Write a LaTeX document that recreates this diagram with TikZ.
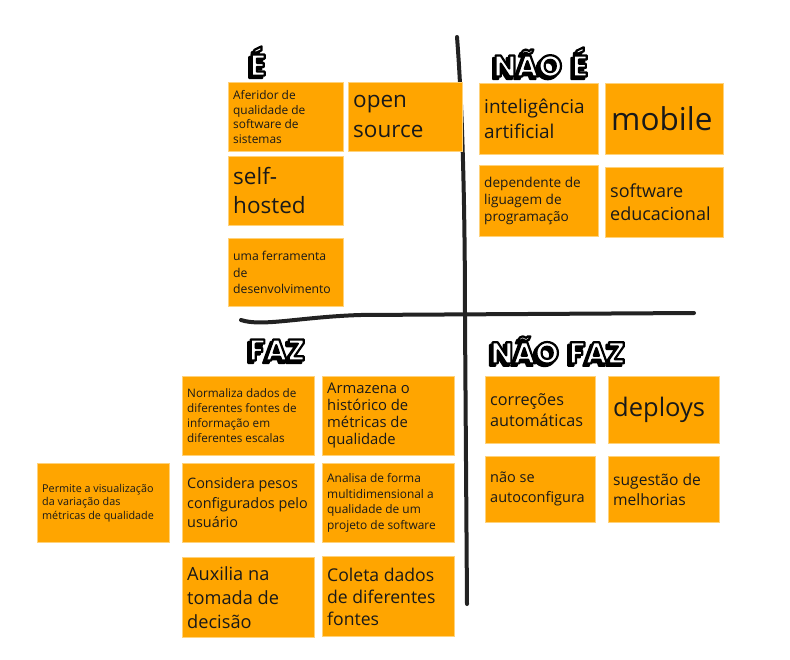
\documentclass[tikz,border=0pt]{standalone}
\usepackage{fontspec}
\setmainfont{Open Sans}
\newfontfamily\hfont{Poppins}[BoldFont={* Bold}]
\definecolor{noteorange}{HTML}{FFA500}
\definecolor{noteedge}{HTML}{FFD27A}
\definecolor{inkline}{HTML}{222222}
\newcommand{\fsz}[2]{\fontsize{#1}{#2}\selectfont}
\newcommand{\outlined}[2]{\color{#1}\special{pdf:literal direct 0 G 2.2 w 1 j 2 Tr}#2\special{pdf:literal direct 0 Tr}}
\newcommand{\mknote}[8]{%
  \node[note, minimum width={#4-#2}, minimum height={#5-#3}, anchor=north west] (#1) at (#2,#3) {};
  \node[notetext, font=\fsz{#6}{#7}] (#1t) at ([xshift=5pt]#1.west) {#8};}
\newcommand{\mkhead}[4]{%
  \node[headtext] (#1s) at ([shift={(-2.5,2.5)}]#2,#3) {\outlined{black}{#4}};
  \node[headtext] (#1) at (#2,#3) {\outlined{white}{#4}};}
\tikzset{
  note/.style={fill=noteorange, draw=noteedge, line width=0.8pt, inner sep=0pt},
  notetext/.style={anchor=west, align=left, inner sep=0pt, text=black!90},
  headtext/.style={font=\hfont\bfseries\fontsize{30}{30}\selectfont, inner sep=0pt},
  bigline/.style={draw=inkline, line width=4pt, line cap=round, line join=round}
}
\begin{document}
\begin{tikzpicture}[x=1pt,y=-1pt]
\useasboundingbox[fill=white] (0,0) rectangle (790,659);
% axes
\coordinate (vtop) at (457,37);
\coordinate (vmid) at (465,320);
\coordinate (vbot) at (467,604);
\coordinate (hleft) at (241,320);
\coordinate (hright) at (694,313);
\draw[bigline] (vtop) .. controls (462,100) and (465,200) .. (vmid) -- (vbot);
\draw[bigline] (hleft) .. controls (262,327) and (300,317) .. (360,315) -- (hright);
% headings
\mkhead{hE}{258}{61}{É}
\mkhead{hNE}{541}{62}{NÃO\,\,É}
\mkhead{hF}{277}{350}{FAZ}
\mkhead{hNF}{558}{350}{NÃO\,\,FAZ}
% É
\mknote{n1}{228}{82}{343}{151}{11.9}{14.5}{Aferidor de\\qualidade de\\software de\\sistemas}
\mknote{n2}{348}{82}{462}{151}{22.5}{30}{open\\source}
\mknote{n3}{228}{156}{343}{225}{22.5}{29}{self-\\hosted}
\mknote{n4}{228}{238}{343}{306}{12.2}{16.5}{uma ferramenta\\de\\desenvolvimento}
% NÃO É
\mknote{n5}{479}{83}{598}{154}{19}{25}{inteligência\\artificial}
\mknote{n6}{605}{83}{723}{154}{31.5}{31}{\hspace{1pt}mobile}
\mknote{n7}{479}{165}{598}{236}{13.6}{17}{dependente de\\liguagem de\\programação}
\mknote{n8}{605}{167}{723}{237}{18}{23}{software\\educacional}
% FAZ
\mknote{n9}{182}{376}{314}{455}{11.7}{15}{Normaliza dados de\\diferentes fontes de\\informação em\\diferentes escalas}
\mknote{n10}{322}{376}{454}{455}{14.8}{17}{Armazena o\\histórico de\\métricas de\\qualidade}
\mknote{n11}{37}{463}{169}{542}{10.8}{13.5}{Permite a visualização\\da variação das\\métricas de qualidade}
\mknote{n12}{182}{463}{314}{542}{14.4}{19.5}{Considera pesos\\configurados pelo\\usuário}
\mknote{n13}{322}{463}{454}{542}{11.9}{15.5}{Analisa de forma\\multidimensional a\\qualidade de um\\projeto de software}
\mknote{n14}{182}{557}{314}{637}{18.2}{24}{Auxilia na\\tomada de\\decisão}
\mknote{n15}{322}{556}{454}{636}{17.6}{22}{Coleta dados\\de diferentes\\fontes}
% NÃO FAZ
\mknote{n16}{485}{376}{595}{443}{16.2}{21}{correções\\automáticas}
\mknote{n17}{608}{376}{719}{443}{25.5}{25}{deploys}
\mknote{n18}{485}{456}{595}{522}{14.5}{20}{não se\\autoconfigura}
\mknote{n19}{608}{456}{719}{522}{15.6}{20}{sugestão de\\melhorias}
\end{tikzpicture}
\end{document}
